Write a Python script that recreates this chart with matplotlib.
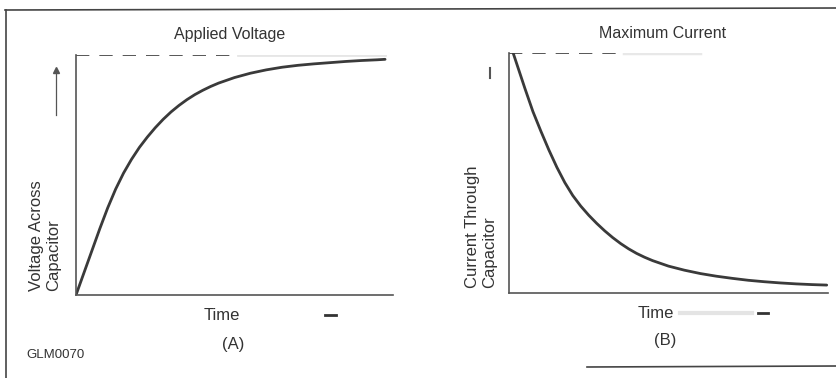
import matplotlib
matplotlib.use('Agg')
import matplotlib.pyplot as plt
from matplotlib.lines import Line2D

plt.rcParams['font.family'] = ['Liberation Sans', 'DejaVu Sans']

W, H = 837, 378

# (A) capacitor charging: time (0-10) vs voltage (% of applied)
time_a = [0, 0.25, 0.5, 0.75, 1.0, 1.25, 1.5, 1.75, 2.0, 2.25, 2.5, 2.75,
          3.0, 3.25, 3.5, 3.75, 4.0, 4.25, 4.5, 5.0, 5.5, 6.0, 6.5, 7.0,
          7.5, 8.0, 8.5, 9.0, 9.5, 9.75]
voltage_a = [0, 9.2, 18.4, 27.6, 36.3, 44.1, 50.8, 56.5, 61.5, 65.8, 69.7, 73.2,
             76.3, 79.0, 81.4, 83.5, 85.3, 86.9, 88.3, 90.6, 92.4, 93.8, 94.9, 95.7,
             96.3, 96.8, 97.3, 97.7, 98.0, 98.2]

# (B) current through capacitor: time (0-10) vs current (% of maximum)
time_b = [0.13, 0.25, 0.5, 0.75, 1.0, 1.25, 1.5, 1.75, 2.0, 2.25, 2.5, 2.75,
          3.0, 3.25, 3.5, 3.75, 4.0, 4.25, 4.5, 5.0, 5.5, 6.0, 6.5, 7.0,
          7.5, 8.0, 8.5, 9.0, 9.5, 9.96]
current_b = [100, 95.2, 85.2, 75.6, 67.4, 59.6, 52.4, 46.0, 40.6, 36.2, 32.4, 29.0,
             25.9, 23.1, 20.6, 18.4, 16.5, 14.9, 13.5, 11.2, 9.5, 8.1, 7.0, 6.1,
             5.3, 4.7, 4.2, 3.8, 3.5, 3.3]

titles = ['Applied Voltage', 'Maximum Current']
ylabels = ['Voltage Across\nCapacitor', 'Current Through\nCapacitor']
panel_tags = ['(A)', '(B)']

ink = '#3a3a3a'
axis_ink = '#555555'
txt = '#333333'


def fx(x):
    return x / W


def fy(y):
    return 1 - y / H


def make_axes(left, right, top, bottom):
    ax = fig.add_axes([fx(left), fy(bottom), (right - left) / W, (bottom - top) / H])
    ax.set_xlim(0, 10)
    ax.set_ylim(0, 100)
    for s in ['top', 'right']:
        ax.spines[s].set_visible(False)
    for s in ['left', 'bottom']:
        ax.spines[s].set_color(axis_ink)
        ax.spines[s].set_linewidth(1.2)
    ax.set_xticks([])
    ax.set_yticks([])
    ax.patch.set_alpha(0)
    return ax


fig = plt.figure(figsize=(W / 100, H / 100), dpi=100)

# outer frame pieces
fig.add_artist(Line2D([fx(5), fx(837)], [fy(10), fy(8)], color='#444444', lw=1.2))
fig.add_artist(Line2D([fx(6), fx(6)], [fy(10), fy(378)], color='#444444', lw=1.2))
fig.add_artist(Line2D([fx(587), fx(837)], [fy(367), fy(366)], color='#444444', lw=1.2))

# panel A
ax1 = make_axes(76, 393, 55, 295)
ax1.plot([0, 5.1], [100, 100], ls=(0, (8, 6)), color=ink, lw=1.2)
ax1.plot([5.1, 9.75], [100, 100], color='#e6e6e6', lw=2)
ax1.plot(time_a, voltage_a, color=ink, lw=2.0, solid_capstyle='round', solid_joinstyle='round')

# panel B
ax2 = make_axes(509, 828, 53, 293)
ax2.plot([0, 3.4], [100, 100], ls=(0, (8, 6)), color=ink, lw=1.2)
ax2.plot([3.6, 6.0], [100, 100], color='#e8e8e8', lw=2.5)
ax2.plot(time_b, current_b, color=ink, lw=2.0, solid_capstyle='round', solid_joinstyle='round')

# titles
fig.text(fx(230), fy(35), titles[0], ha='center', va='center', fontsize=11.5, color=txt)
fig.text(fx(663), fy(33), titles[1], ha='center', va='center', fontsize=11.5, color=txt)

# y labels
fig.text(fx(45), fy(291), ylabels[0], rotation=90, ha='center', va='bottom',
         fontsize=12, color=txt, linespacing=1.15, multialignment='left')
fig.text(fx(481), fy(288), ylabels[1], rotation=90, ha='center', va='bottom',
         fontsize=12, color=txt, linespacing=1.15, multialignment='left')

# direction arrows
fig.add_artist(Line2D([fx(56), fx(56)], [fy(115), fy(72)], color='#555555', lw=0.9))
fig.add_artist(Line2D([fx(56)], [fy(70)], marker='^', ms=4, color='#555555', lw=0))
fig.add_artist(Line2D([fx(490), fx(490)], [fy(78), fy(68)], color='#555555', lw=1.5))

# Time labels with arrow marks
fig.text(fx(222), fy(315), 'Time', ha='center', va='center', fontsize=12, color=txt)
fig.add_artist(Line2D([fx(325), fx(336)], [fy(315), fy(315)], color=txt, lw=2))
fig.text(fx(656), fy(313), 'Time', ha='center', va='center', fontsize=12, color=txt)
fig.add_artist(Line2D([fx(680), fx(752)], [fy(313), fy(313)], color='#e4e4e4', lw=3))
fig.add_artist(Line2D([fx(758), fx(768)], [fy(313), fy(313)], color=txt, lw=2))

# panel tags and code
fig.text(fx(233), fy(345), panel_tags[0], ha='center', va='center', fontsize=12, color=txt)
fig.text(fx(665), fy(340), panel_tags[1], ha='center', va='center', fontsize=12, color=txt)
fig.text(fx(26), fy(355), 'GLM0070', ha='left', va='center', fontsize=9.5, color=txt)

fig.savefig('out.png', dpi=100, facecolor='white')
